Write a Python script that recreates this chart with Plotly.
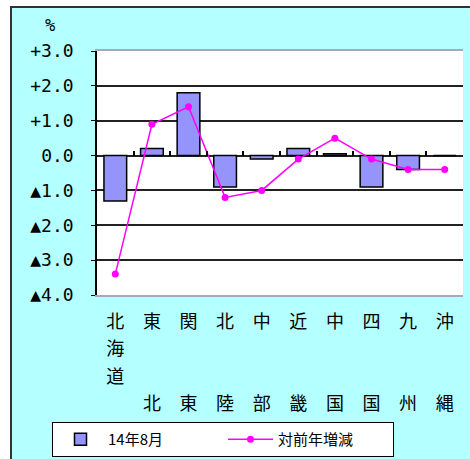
import plotly.graph_objects as go

regions = ["北海道", "東北", "関東", "北陸", "中部", "近畿", "中国", "四国", "九州", "沖縄"]
region_rows = [["北", "海", "道", " "], ["東", " ", " ", "北"], ["関", " ", " ", "東"], ["北", " ", " ", "陸"],
               ["中", " ", " ", "部"], ["近", " ", " ", "畿"], ["中", " ", " ", "国"], ["四", " ", " ", "国"],
               ["九", " ", " ", "州"], ["沖", " ", " ", "縄"]]
bar_values = [-1.3, 0.2, 1.8, -0.9, -0.1, 0.2, 0.05, -0.9, -0.4, 0.0]
line_values = [-3.4, 0.9, 1.4, -1.2, -1.0, -0.1, 0.5, -0.1, -0.4, -0.4]
y_ticks = [3, 2, 1, 0, -1, -2, -3, -4]
y_tick_labels = ["+3.0", "+2.0", "+1.0", "0.0", "▲1.0", "▲2.0", "▲3.0", "▲4.0"]

W, H = 470, 459
L, R, T, B = 97, 7, 51, 164
PW, PH = W - L - R, H - T - B

def px_x(p):
    return (p - L) / PW

def px_y(p):
    return (H - B - p) / PH

x_idx = list(range(len(regions)))
boundaries = [i + 0.5 for i in x_idx[:-1]]
region_labels = ["<br>".join('<span style="font-size:18px">%s</span>' % c for c in rows)
                 for rows in region_rows]

fig = go.Figure()
fig.add_trace(go.Bar(
    x=x_idx, y=bar_values, name="14年8月",
    marker=dict(color="#9494FA", line=dict(color="black", width=1.5)),
    width=0.62,
))
fig.add_trace(go.Scatter(
    x=x_idx, y=line_values, name="対前年増減", mode="lines+markers",
    line=dict(color="#FF00FF", width=1.5),
    marker=dict(color="#FF00FF", size=7, symbol="circle"),
))
fig.add_trace(go.Scatter(x=[x_idx[0]], y=[0], xaxis="x2", mode="markers",
                         marker=dict(opacity=0), showlegend=False, hoverinfo="skip"))

fig.update_layout(
    width=W, height=H,
    margin=dict(l=L, r=R, t=T, b=B, autoexpand=False),
    paper_bgcolor="#B4FFFF",
    plot_bgcolor="white",
    font=dict(family="DejaVu Sans Mono, Noto Sans CJK JP", size=16, color="black"),
    showlegend=True,
    legend=dict(
        orientation="h", x=px_x(52), y=px_y(457), xanchor="left", yanchor="bottom",
        bgcolor="white", bordercolor="black", borderwidth=1,
        font=dict(family="Noto Sans CJK JP", size=15),
        itemwidth=45, tracegroupgap=0, entrywidth=110,
    ),
    xaxis=dict(
        range=[-0.5, 9.5], tickvals=x_idx, ticktext=region_labels,
        showgrid=False, zeroline=False, ticks="",
        showline=True, linecolor="#A8A8B8", linewidth=1.5, mirror=True,
        tickfont=dict(family="Noto Sans CJK JP", size=21),
        ticklabelstandoff=6, automargin=False,
        fixedrange=True,
    ),
    xaxis2=dict(
        range=[-0.5, 9.5], overlaying="x", anchor="free", position=4 / 7,
        tickvals=boundaries, ticks="inside", ticklen=5, tickcolor="black", tickwidth=1.5,
        showticklabels=False, showgrid=False, zeroline=False, showline=False,
    ),
    yaxis=dict(
        range=[-4, 3], tickvals=y_ticks, ticktext=y_tick_labels,
        showgrid=True, gridcolor="#222222", gridwidth=1.5,
        zeroline=True, zerolinecolor="#222222", zerolinewidth=1.5,
        showline=True, linecolor="black", linewidth=1.5,
        ticks="outside", ticklen=4, tickcolor="black",
        ticklabelstandoff=14, automargin=False,
        tickfont=dict(size=18),
    ),
    bargap=0.38,
    shapes=[
        dict(type="rect", xref="paper", yref="paper", x0=px_x(-5), x1=px_x(10), y0=px_y(470), y1=px_y(-5),
             fillcolor="white", line=dict(width=0), layer="below"),
        dict(type="rect", xref="paper", yref="paper", x0=px_x(-5), x1=px_x(480), y0=px_y(6), y1=px_y(-5),
             fillcolor="white", line=dict(width=0), layer="below"),
        dict(type="line", xref="paper", yref="paper", x0=px_x(11), x1=px_x(11), y0=px_y(470), y1=px_y(6),
             line=dict(color="#333333", width=2)),
        dict(type="line", xref="paper", yref="paper", x0=px_x(10), x1=px_x(480), y0=px_y(7), y1=px_y(7),
             line=dict(color="#333333", width=2)),
    ],
    annotations=[
        dict(text="%", xref="paper", yref="paper", x=px_x(50), y=px_y(25), showarrow=False,
             font=dict(size=17, family="DejaVu Sans Mono"), xanchor="center", yanchor="middle"),
    ],
)

fig.write_html("out.html", post_script="document.body.style.margin='0';",
               config={"displayModeBar": False})
